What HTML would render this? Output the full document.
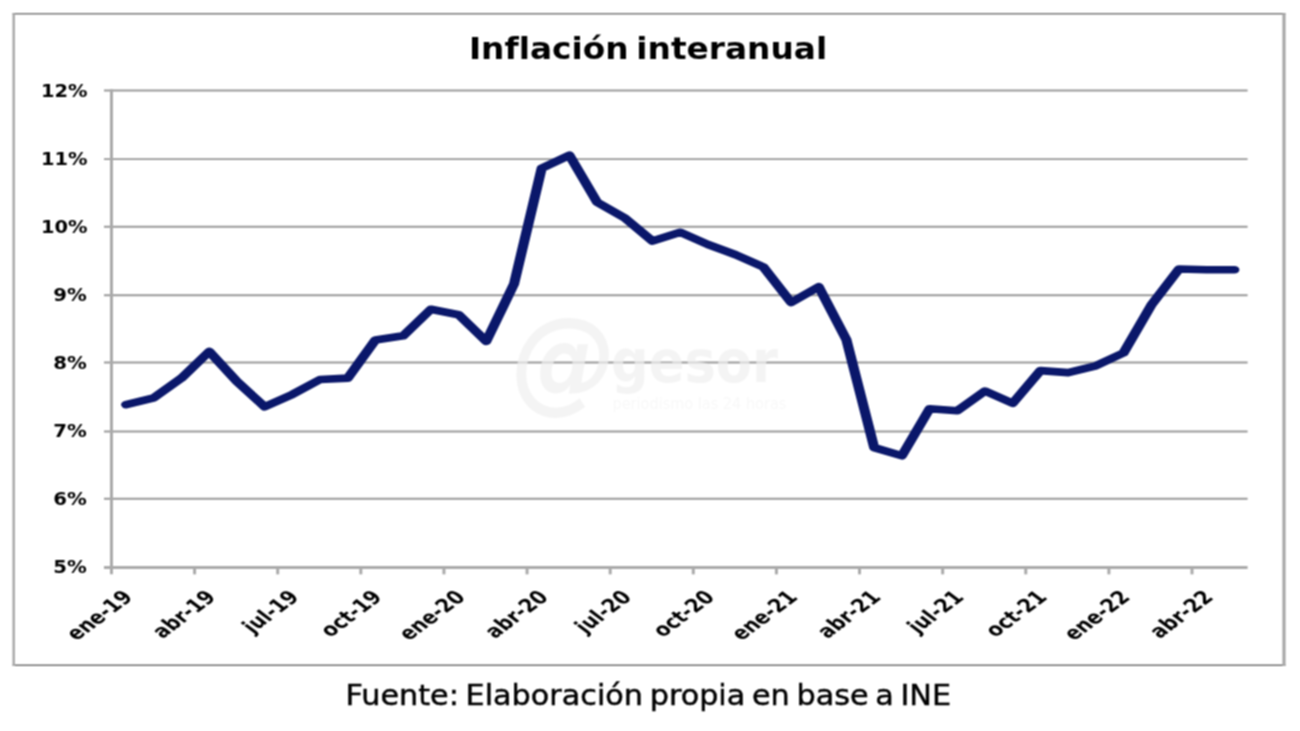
<!DOCTYPE html>
<html lang="es"><head><meta charset="utf-8"><title>Inflación interanual</title>
<style>
html,body{margin:0;padding:0;background:#fff;}
body{width:1300px;height:731px;overflow:hidden;}
svg{display:block;}
text{font-family:"DejaVu Sans","Liberation Sans",sans-serif;}
.b{font-weight:bold;}
.i{font-style:italic;}
</style></head><body>
<svg width="1300" height="731" viewBox="0 0 1300 731">
<defs><filter id="soft" x="0" y="0" width="1300" height="731" filterUnits="userSpaceOnUse" color-interpolation-filters="sRGB"><feConvolveMatrix order="3" kernelMatrix="0.07290 0.12420 0.07290 0.12420 0.21160 0.12420 0.07290 0.12420 0.07290" edgeMode="duplicate" preserveAlpha="false"/></filter></defs>
<g filter="url(#soft)">
<rect width="1300" height="731" fill="#fff"/>
<g fill="none"><line x1="12.6" y1="13.85" x2="1285.4" y2="13.85" stroke="#7a7a7a" stroke-width="1.5"/><line x1="12.6" y1="665.3" x2="1285.4" y2="665.3" stroke="#707070" stroke-width="1.5"/><line x1="13.7" y1="13.2" x2="13.7" y2="666" stroke="#a9a9a9" stroke-width="2.5"/><line x1="1284" y1="13.2" x2="1284" y2="666" stroke="#a8a8a8" stroke-width="3.2"/></g>
<g stroke="#999999" stroke-width="1.9"><line x1="103.97" y1="90.50" x2="1247.6" y2="90.50"/><line x1="103.97" y1="159.10" x2="1247.6" y2="159.10"/><line x1="103.97" y1="226.70" x2="1247.6" y2="226.70"/><line x1="103.97" y1="295.30" x2="1247.6" y2="295.30"/><line x1="103.97" y1="362.55" x2="1247.6" y2="362.55"/><line x1="103.97" y1="431.45" x2="1247.6" y2="431.45"/><line x1="103.97" y1="498.80" x2="1247.6" y2="498.80"/></g>
<g stroke="#aaaaaa" stroke-width="3"><line x1="103.97" y1="567.55" x2="1247.6" y2="567.55" stroke-width="3"/><line x1="111.47" y1="89.20" x2="111.47" y2="574.35"/><line x1="194.59" y1="567.55" x2="194.59" y2="574.35"/><line x1="277.71" y1="567.55" x2="277.71" y2="574.35"/><line x1="360.82" y1="567.55" x2="360.82" y2="574.35"/><line x1="443.94" y1="567.55" x2="443.94" y2="574.35"/><line x1="527.06" y1="567.55" x2="527.06" y2="574.35"/><line x1="610.18" y1="567.55" x2="610.18" y2="574.35"/><line x1="693.29" y1="567.55" x2="693.29" y2="574.35"/><line x1="776.41" y1="567.55" x2="776.41" y2="574.35"/><line x1="859.53" y1="567.55" x2="859.53" y2="574.35"/><line x1="942.65" y1="567.55" x2="942.65" y2="574.35"/><line x1="1025.76" y1="567.55" x2="1025.76" y2="574.35"/><line x1="1108.88" y1="567.55" x2="1108.88" y2="574.35"/><line x1="1192.00" y1="567.55" x2="1192.00" y2="574.35"/></g>
<g id="wm" fill="#f0f0f0" fill-opacity="0.7"><text class="b i" transform="translate(511.80,398.30) scale(0.9150,1)" font-size="114.50" >@</text><text class="b" transform="translate(611.00,382.30) scale(0.9000,1)" font-size="58.50" >gesor</text><text class="r" transform="translate(612.50,408.50) scale(0.9480,1)" font-size="15.30" fill-opacity="0.45" >periodismo las 24 horas</text></g>
<g transform="scale(1.33333,1)"><polyline points="94.59,404.67 115.37,397.86 136.15,378.09 156.93,351.51 177.71,381.50 198.49,406.72 219.27,394.45 240.05,379.46 260.83,378.09 281.61,339.93 302.39,335.84 323.17,309.26 343.95,314.71 364.72,341.29 385.50,284.05 406.28,168.19 427.06,155.24 447.84,202.27 468.62,217.94 489.40,241.11 510.18,232.25 530.96,244.52 551.74,254.74 572.52,267.01 593.30,302.45 614.08,286.77 634.86,339.93 655.64,447.61 676.42,455.78 697.20,408.76 717.97,410.80 738.75,391.04 759.53,403.31 780.31,370.60 801.09,372.64 821.87,365.83 842.65,352.88 863.43,305.17 884.21,269.05 904.99,269.73 925.77,269.73" fill="none" stroke="#0a176a" stroke-width="7.6" stroke-linejoin="round" stroke-linecap="round"/></g>
<text class="b" transform="translate(468.90,58.50) scale(1.0860,1)" font-size="30.20" word-spacing="-3.4" >Inflación interanual</text>
<text class="b" transform="translate(40.90,97.10) scale(1.0930,1)" font-size="17.80" >12%</text>
<text class="b" transform="translate(40.90,165.10) scale(1.0930,1)" font-size="17.80" >11%</text>
<text class="b" transform="translate(40.90,233.10) scale(1.0930,1)" font-size="17.80" >10%</text>
<text class="b" transform="translate(53.20,301.10) scale(1.1100,1)" font-size="17.80" >9%</text>
<text class="b" transform="translate(53.20,369.10) scale(1.1100,1)" font-size="17.80" >8%</text>
<text class="b" transform="translate(53.20,437.10) scale(1.1100,1)" font-size="17.80" >7%</text>
<text class="b" transform="translate(53.20,505.10) scale(1.1100,1)" font-size="17.80" >6%</text>
<text class="b" transform="translate(53.20,573.10) scale(1.1100,1)" font-size="17.80" >5%</text>
<text class="b" transform="translate(133.97,598.30) scale(1.3333,1) rotate(-45) scale(0.84,1)" text-anchor="end" font-size="18.7" >ene-19</text>
<text class="b" transform="translate(217.09,598.30) scale(1.3333,1) rotate(-45) scale(0.84,1)" text-anchor="end" font-size="18.7" >abr-19</text>
<text class="b" transform="translate(300.21,598.30) scale(1.3333,1) rotate(-45) scale(0.84,1)" text-anchor="end" font-size="18.7" >jul-19</text>
<text class="b" transform="translate(383.32,598.30) scale(1.3333,1) rotate(-45) scale(0.84,1)" text-anchor="end" font-size="18.7" >oct-19</text>
<text class="b" transform="translate(466.44,598.30) scale(1.3333,1) rotate(-45) scale(0.84,1)" text-anchor="end" font-size="18.7" >ene-20</text>
<text class="b" transform="translate(549.56,598.30) scale(1.3333,1) rotate(-45) scale(0.84,1)" text-anchor="end" font-size="18.7" >abr-20</text>
<text class="b" transform="translate(632.68,598.30) scale(1.3333,1) rotate(-45) scale(0.84,1)" text-anchor="end" font-size="18.7" >jul-20</text>
<text class="b" transform="translate(715.79,598.30) scale(1.3333,1) rotate(-45) scale(0.84,1)" text-anchor="end" font-size="18.7" >oct-20</text>
<text class="b" transform="translate(798.91,598.30) scale(1.3333,1) rotate(-45) scale(0.84,1)" text-anchor="end" font-size="18.7" >ene-21</text>
<text class="b" transform="translate(882.03,598.30) scale(1.3333,1) rotate(-45) scale(0.84,1)" text-anchor="end" font-size="18.7" >abr-21</text>
<text class="b" transform="translate(965.15,598.30) scale(1.3333,1) rotate(-45) scale(0.84,1)" text-anchor="end" font-size="18.7" >jul-21</text>
<text class="b" transform="translate(1048.26,598.30) scale(1.3333,1) rotate(-45) scale(0.84,1)" text-anchor="end" font-size="18.7" >oct-21</text>
<text class="b" transform="translate(1131.38,598.30) scale(1.3333,1) rotate(-45) scale(0.84,1)" text-anchor="end" font-size="18.7" >ene-22</text>
<text class="b" transform="translate(1214.50,598.30) scale(1.3333,1) rotate(-45) scale(0.84,1)" text-anchor="end" font-size="18.7" >abr-22</text>
<text class="r" transform="translate(345.50,705.30) scale(1.0885,1)" font-size="27.80" word-spacing="-2.7" stroke="#000" stroke-width="0.45" >Fuente: Elaboración propia en base a INE</text>
</g></svg></body></html>
